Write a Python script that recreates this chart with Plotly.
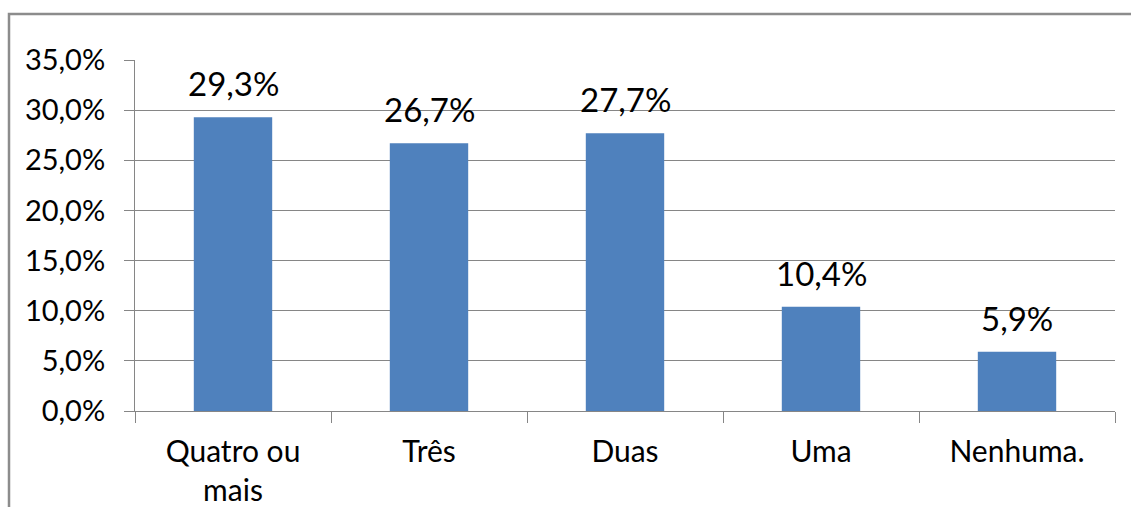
import plotly.graph_objects as go

# data
categories = ["Quatro ou<br>mais", "Três", "Duas", "Uma", "Nenhuma."]
values = [29.3, 26.7, 27.7, 10.4, 5.9]
y_ticks = [0, 5, 10, 15, 20, 25, 30, 35]
y_labels = [f"{t:.1f}%".replace(".", ",") for t in y_ticks]

FONT = "Lato"
BAR = "#4F81BD"
GRID = "#868686"

fig = go.Figure()
fig.add_trace(go.Bar(x=categories, y=values, marker=dict(color=BAR, line=dict(width=0)),
                     hoverinfo="skip"))

# data labels floating above the bars
for c, v in zip(categories, values):
    fig.add_annotation(x=c, y=v, text=f"{v:.1f}%".replace(".", ","), showarrow=False,
                       yanchor="bottom", yshift=12,
                       font=dict(family=FONT, size=33, color="#000"))

# gray frame of the chart (cropped on the right and bottom)
L, R, T, B = 135, 16, 60, 96
W, H = 1131 - L - R, 507 - T - B
fig.add_shape(type="rect", xref="paper", yref="paper",
              x0=(9 - L) / W, x1=(1140 - L) / W, y0=-(520 - 411) / H, y1=1 + (T - 14) / H,
              line=dict(color="#8C8C8C", width=2.5), fillcolor="rgba(0,0,0,0)", layer="below")

fig.update_layout(
    width=1131, height=507,
    margin=dict(l=L, r=R, t=T, b=B, autoexpand=False),
    paper_bgcolor="white", plot_bgcolor="white",
    bargap=0.6,
    showlegend=False,
    font=dict(family=FONT, size=30, color="#000"),
)
fig.update_yaxes(range=[0, 35], tickvals=y_ticks, ticktext=y_labels,
                 showgrid=True, gridcolor=GRID, gridwidth=1,
                 showline=True, linecolor=GRID, linewidth=1,
                 ticks="outside", ticklen=10, tickcolor=GRID, zeroline=False,
                 ticklabelstandoff=13, tickfont=dict(family=FONT, size=29))
fig.update_xaxes(showline=True, linecolor=GRID, linewidth=1, ticks="outside",
                 tickson="boundaries", ticklen=11, tickcolor=GRID, showgrid=False,
                 ticklabelstandoff=14, tickfont=dict(family=FONT, size=30))

fig.write_html("out.html", config={"displayModeBar": False})

# drop the browser's default body margin so the figure sits at the page corner
with open("out.html", encoding="utf-8") as f:
    html = f.read()
html = html.replace("<body>", '<body style="margin:0">', 1)
with open("out.html", "w", encoding="utf-8") as f:
    f.write(html)
